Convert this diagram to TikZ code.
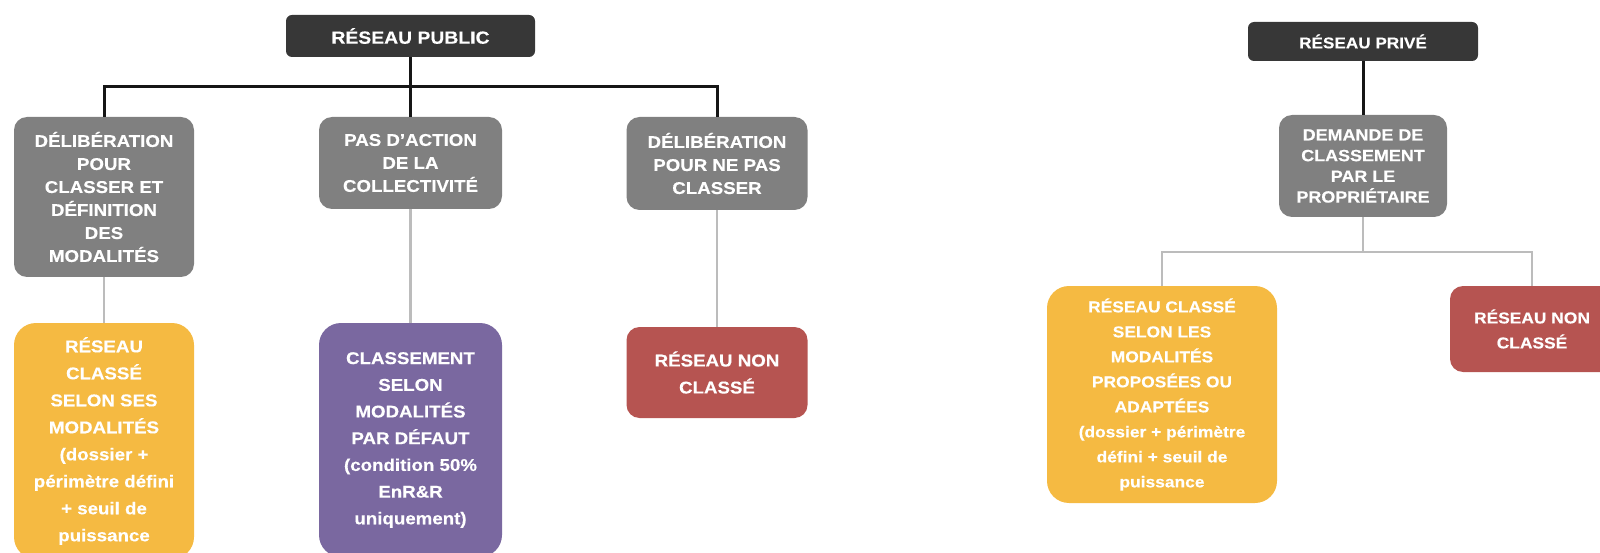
\documentclass[tikz,border=0pt]{standalone}
\usepackage{fontspec}
\setmainfont{Liberation Sans}[FakeStretch=1.1, FakeBold=0.3]
\definecolor{boxdark}{RGB}{55,55,55}
\definecolor{boxgray}{RGB}{128,128,128}
\definecolor{boxyellow}{RGB}{245,186,66}
\definecolor{boxpurple}{RGB}{122,104,160}
\definecolor{boxred}{RGB}{182,84,81}
\definecolor{linkgray}{RGB}{188,188,188}
\definecolor{linkblack}{RGB}{22,22,22}
\begin{document}
\begin{tikzpicture}[x=1pt,y=-1pt,
  box/.style={rectangle, inner sep=0pt, align=center, text=white,
    font=\bfseries\fontsize{17}{23}\selectfont},
  headbox/.style={box, fill=boxdark, rounded corners=6pt},
  stepbox/.style={box, fill=boxgray, rounded corners=13pt},
  yellowbox/.style={box, fill=boxyellow, rounded corners=22pt,
    font=\bfseries\fontsize{17}{27}\selectfont},
  purplebox/.style={box, fill=boxpurple, rounded corners=22pt,
    font=\bfseries\fontsize{17}{26.7}\selectfont},
  redbox/.style={box, fill=boxred, rounded corners=13pt,
    font=\bfseries\fontsize{17}{27}\selectfont},
  mainlink/.style={draw=linkblack, line width=3pt},
  sublink/.style={draw=linkgray, line width=2.5pt}
]
\useasboundingbox (0,0) rectangle (1600,553);

% ---------- public network ----------
\node[headbox, minimum width=249pt, minimum height=42pt,
  font=\bfseries\fontsize{17.6}{23}\selectfont] (pub) at (410.5,36) {RÉSEAU PUBLIC};

\node[stepbox, minimum width=180pt, minimum height=160pt] (dl) at (104,197)
  {DÉLIBÉRATION\\POUR\\CLASSER ET\\DÉFINITION\\DES\\MODALITÉS};
\node[stepbox, minimum width=183pt, minimum height=92pt] (mid) at (410.5,163)
  {PAS D’ACTION\\DE LA\\COLLECTIVITÉ};
\node[stepbox, minimum width=181pt, minimum height=93pt] (dr) at (717,163.5)
  {DÉLIBÉRATION\\POUR NE PAS\\CLASSER};

\node[yellowbox, minimum width=180pt, minimum height=236pt] (yl) at (104,441)
  {RÉSEAU\\CLASSÉ\\SELON SES\\MODALITÉS\\(dossier +\\périmètre défini\\+ seuil de\\puissance};
\node[purplebox, minimum width=183pt, minimum height=234pt] (pu) at (410.5,440)
  {CLASSEMENT\\SELON\\MODALITÉS\\PAR DÉFAUT\\(condition 50\%\\EnR\&R\\uniquement)};
\node[redbox, minimum width=181pt, minimum height=91pt] (rd) at (717,372.5)
  {RÉSEAU NON\\CLASSÉ};

\coordinate (bar) at (410.5,87);
\draw[mainlink] (pub) -- (mid);
\draw[mainlink] (dl.north) |- (bar) -| (dr.north);
\draw[sublink] (dl) -- (yl);
\draw[sublink] (mid) -- (pu);
\draw[sublink] (dr) -- (rd);

% ---------- private network ----------
\node[headbox, minimum width=230pt, minimum height=39pt,
  font=\bfseries\fontsize{15.6}{21}\selectfont] (priv) at (1363,41.5) {RÉSEAU PRIVÉ};

\node[stepbox, minimum width=168pt, minimum height=102pt,
  font=\bfseries\fontsize{16.3}{20.7}\selectfont] (dem) at (1363,166)
  {DEMANDE DE\\CLASSEMENT\\PAR LE\\PROPRIÉTAIRE};

\node[yellowbox, minimum width=230pt, minimum height=217pt,
  font=\bfseries\fontsize{15.8}{25}\selectfont] (yr) at (1162,394.5)
  {RÉSEAU CLASSÉ\\SELON LES\\MODALITÉS\\PROPOSÉES OU\\ADAPTÉES\\(dossier + périmètre\\défini + seuil de\\puissance};
\node[redbox, minimum width=164pt, minimum height=86pt,
  font=\bfseries\fontsize{15.8}{25}\selectfont] (rr) at (1532,329)
  {RÉSEAU NON\\CLASSÉ};

\coordinate (split) at (1363,252);
\draw[mainlink] (priv) -- (dem);
\draw[sublink] (dem.south) -- (split);
\draw[sublink] (yr.north) |- (split) -| (rr.north);
\end{tikzpicture}
\end{document}
